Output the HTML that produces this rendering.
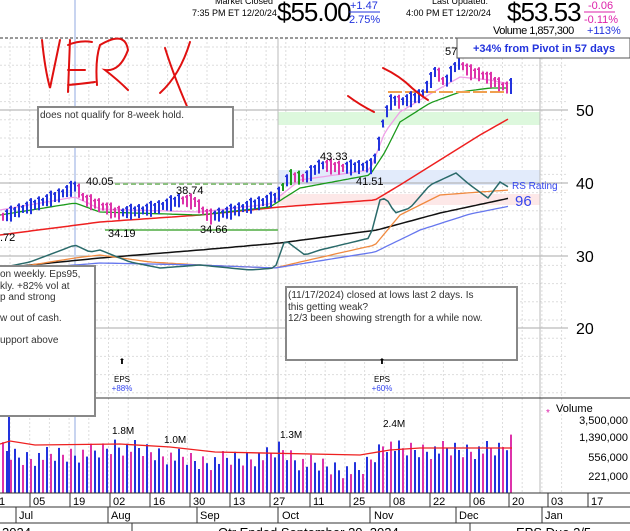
<!DOCTYPE html>
<html><head><meta charset="utf-8"><style>
body{margin:0;background:#fff;width:630px;height:531px;overflow:hidden;font-family:"Liberation Sans",sans-serif}
svg{display:block}
</style></head><body>
<svg id="c" width="630" height="531" xmlns="http://www.w3.org/2000/svg" font-family="Liberation Sans, sans-serif">
<rect width="630" height="531" fill="#fff"/>
<g id="grid"></g>
<rect x="278" y="112" width="262" height="13" fill="#ddf8dd"/>
<rect x="278" y="170" width="262" height="15" fill="#e2ebfb"/>
<rect x="278" y="194" width="262" height="11" fill="#fde8e8"/>
<line x1="0" y1="38" x2="630" y2="38" stroke="#333" stroke-dasharray="3,2"/>
<line x1="0" y1="110" x2="568" y2="110" stroke="#aaa"/>
<line x1="0" y1="183" x2="568" y2="183" stroke="#aaa"/>
<line x1="0" y1="256" x2="568" y2="256" stroke="#aaa"/>
<line x1="0" y1="328" x2="568" y2="328" stroke="#aaa"/>
<line x1="75" y1="0" x2="75" y2="493" stroke="#c8d4f0" stroke-width="2"/>
<line x1="278" y1="38" x2="278" y2="493" stroke="#bbb"/>
<line x1="540" y1="38" x2="540" y2="493" stroke="#bbb"/>
<line x1="95" y1="398" x2="630" y2="398" stroke="#333"/>
<g id="lines"></g>
<line x1="105" y1="230" x2="278" y2="230" stroke="#7ac070" stroke-width="2"/>
<line x1="115" y1="184" x2="275" y2="184" stroke="#8cc080" stroke-width="2" stroke-dasharray="5,3"/>
<line x1="388" y1="92" x2="505" y2="92" stroke="#f0a050" stroke-width="2" stroke-dasharray="14,3"/>
<g id="bars"></g>
<g id="vol"></g>
<g font-size="11" fill="#000">
<text x="86" y="185">40.05</text>
<text x="108" y="237">34.19</text>
<text x="176" y="194">38.74</text>
<text x="200" y="233">34.66</text>
<text x="320" y="160">43.33</text>
<text x="356" y="185">41.51</text>
<text x="445" y="55">57</text>
<text x="0" y="241">.72</text>
</g>
<text x="512" y="189" font-size="10" fill="#3344ee">RS Rating</text>
<text x="515" y="206" font-size="15" fill="#3344ee">96</text>
<g font-size="16" fill="#000"><text x="576" y="116">50</text><text x="576" y="189">40</text><text x="576" y="262">30</text><text x="576" y="334">20</text></g>
<g font-size="9" fill="#000">
<text x="215" y="4">Market Closed</text>
<text x="192" y="16">7:35 PM ET 12/20/24</text>
<text x="432" y="4">Last Updated:</text>
<text x="406" y="16">4:00 PM ET 12/20/24</text>
</g>
<text x="277" y="21" font-size="26" letter-spacing="-1">$55.00</text>
<text x="350" y="9" font-size="11" fill="#2233dd">+1.47</text>
<line x1="349" y1="12" x2="380" y2="12" stroke="#2233dd"/>
<text x="349" y="23" font-size="11" fill="#2233dd">2.75%</text>
<text x="507" y="21" font-size="26" letter-spacing="-1">$53.53</text>
<text x="588" y="9" font-size="11" fill="#dd22aa">-0.06</text>
<line x1="584" y1="12" x2="615" y2="12" stroke="#dd22aa"/>
<text x="584" y="23" font-size="11" fill="#dd22aa">-0.11%</text>
<text x="493" y="34" font-size="11" letter-spacing="-0.5">Volume 1,857,300</text>
<text x="587" y="34" font-size="11" fill="#2233dd">+113%</text>
<rect x="457" y="38" width="173" height="20" fill="#fff" stroke="#555"/>
<text x="473" y="52" font-size="11" font-weight="bold" fill="#2233dd">+34% from Pivot in 57 days</text>
<g fill="none" stroke="#e01010" stroke-width="2" stroke-linecap="round">
<path d="M42 40 Q45 70 50 88 L60 40"/><path d="M70 40 L68 92 M68 45 Q80 40 92 42 M68 70 L85 70 M68 85 Q80 84 95 82"/>
<path d="M97 85 Q95 60 100 45 Q125 30 128 50 Q120 72 105 70 Q118 80 128 90"/><path d="M165 48 Q175 80 193 120 M190 42 Q180 75 160 93 M187 115 L193 121 L195 112"/>
<path d="M383 68 Q400 76 412 88 Q420 95 428 100"/><path d="M348 96 Q360 105 374 112"/>
</g>
<rect x="38" y="107" width="195" height="40" fill="#fff" stroke="#888" stroke-width="2"/>
<text x="40" y="118" font-size="10" fill="#333">does not qualify for 8-week hold.</text>
<rect x="-5" y="266" width="100" height="150" fill="#fff" stroke="#888" stroke-width="2"/>
<g font-size="10" fill="#333"><text x="0" y="277">on weekly. Eps95,</text><text x="0" y="289">kly. +82% vol at</text><text x="0" y="300">p and strong</text><text x="0" y="321">w out of cash.</text><text x="0" y="343">upport above</text></g>
<rect x="286" y="287" width="231" height="73" fill="#fff" stroke="#888" stroke-width="2"/>
<g font-size="10" fill="#333"><text x="288" y="298">(11/17/2024) closed at lows last 2 days.  Is</text><text x="288" y="310">this getting weak?</text><text x="288" y="321">12/3 been showing strength for a while now.</text></g>
<g font-size="8" text-anchor="middle"><text x="122" y="364">⬆</text><text x="122" y="382">EPS</text><text x="122" y="391" fill="#3344ee">+88%</text>
<text x="382" y="364">⬆</text><text x="382" y="382">EPS</text><text x="382" y="391" fill="#3344ee">+60%</text></g>
<g font-size="10"><text x="112" y="434">1.8M</text><text x="164" y="443">1.0M</text><text x="280" y="438">1.3M</text><text x="383" y="427">2.4M</text></g>
<text x="546" y="416" font-size="10" fill="#dd22aa">*</text>
<text x="556" y="412" font-size="11">Volume</text>
<g font-size="11" text-anchor="end"><text x="628" y="424">3,500,000</text><text x="628" y="441">1,390,000</text><text x="628" y="461">556,000</text><text x="628" y="480">221,000</text></g>
<line x1="0" y1="493" x2="630" y2="493" stroke="#333"/>
<g font-size="11" id="dates"></g>
<line x1="0" y1="507" x2="630" y2="507" stroke="#333"/>
<g stroke="#333"><line x1="16" y1="507" x2="16" y2="523"/><line x1="108" y1="507" x2="108" y2="523"/><line x1="197" y1="507" x2="197" y2="523"/><line x1="278" y1="507" x2="278" y2="523"/><line x1="370" y1="507" x2="370" y2="523"/><line x1="456" y1="507" x2="456" y2="523"/><line x1="542" y1="507" x2="542" y2="523"/>
<line x1="0" y1="523" x2="630" y2="523"/><line x1="132" y1="523" x2="132" y2="531"/><line x1="470" y1="523" x2="470" y2="531"/></g>
<g font-size="11"><text x="19" y="519">Jul</text><text x="111" y="519">Aug</text><text x="200" y="519">Sep</text><text x="282" y="519">Oct</text><text x="374" y="519">Nov</text><text x="459" y="519">Dec</text><text x="545" y="519">Jan</text></g>
<g font-size="13"><text x="2" y="537">2024</text><text x="218" y="537">Qtr Ended September 30, 2024</text><text x="516" y="537">EPS Due 2/5</text></g>
</svg>
<script>
var NS="http://www.w3.org/2000/svg";
function el(p,t,a){var e=document.createElementNS(NS,t);for(var k in a)e.setAttribute(k,a[k]);p.appendChild(e);return e;}
function interp(pts,x){for(var i=0;i<pts.length-1;i++){if(x>=pts[i][0]&&x<=pts[i+1][0]){var t=(x-pts[i][0])/(pts[i+1][0]-pts[i][0]);return pts[i][1]+t*(pts[i+1][1]-pts[i][1]);}}return pts[pts.length-1][1];}
var g=document.getElementById('grid');
for(var x=10;x<568;x+=19.7)el(g,'line',{x1:x,y1:38,x2:x,y2:493,stroke:'#ddd','stroke-dasharray':'2,2'});
for(var y=47;y<400;y+=18.2)el(g,'line',{x1:0,y1:y,x2:568,y2:y,stroke:'#ddd','stroke-dasharray':'2,2'});
var L=document.getElementById('lines');
function poly(pts,c,w){var d='';for(var x=0;x<=510;x+=4){d+=(d?'L':'M')+x+' '+interp(pts,x).toFixed(1);}el(L,'path',{d:d,fill:'none',stroke:c,'stroke-width':w||1.3});}
var price=[[0,218],[20,210],[40,203],[60,195],[76,186],[85,200],[104,207],[116,213],[140,211],[160,207],[180,200],[195,202],[209,217],[230,212],[250,206],[270,200],[277,197],[289,177],[305,178],[321,165],[341,168],[360,167],[373,166],[380,140],[384,118],[392,100],[400,102],[412,99],[422,95],[430,82],[436,70],[445,84],[458,62],[470,72],[482,75],[495,82],[506,88],[510,86]];
poly([[0,235],[100,222],[200,215],[280,207],[375,200],[400,185],[440,160],[480,135],[510,118]],'#ee2020',1.5);
poly([[0,215],[75,203],[100,212],[200,215],[270,207],[300,188],[370,175],[385,152],[400,122],[430,103],[460,92],[490,88],[510,88]],'#1a9a1a');
poly([[0,210],[75,197],[100,209],[200,212],[270,204],[300,180],[370,170],[385,132],[400,112],[430,94],[460,77],[490,80],[510,84]],'#f0a0e8');
poly([[0,268],[100,258],[200,250],[280,243],[377,230],[440,213],[510,198]],'#111',1.5);
poly([[0,270],[75,258],[100,255],[150,262],[200,265],[275,268],[300,262],[375,245],[400,215],[440,195],[480,192],[510,190]],'#f08a40');
poly([[0,270],[75,265],[100,263],[200,265],[275,268],[375,252],[420,230],[470,214],[510,206]],'#6677ee');
poly([[0,268],[30,262],[75,245],[90,252],[100,250],[130,262],[160,268],[200,265],[250,270],[275,268],[285,240],[305,255],[320,250],[370,238],[380,200],[386,198],[395,213],[410,208],[430,185],[456,173],[470,185],[488,198],[500,182],[510,188]],'#2a6a6a',1.5);
var B=document.getElementById('bars');
for(var i=0;i<=127;i++){var x=3+i*4;var c=interp(price,x),p=interp(price,x-4);var up=c<=p;var col=up?'#2233dd':'#dd33aa';var h=8+((i*7)%5)*2;
if(x>282&&x<300&&i%2==0)col='#1a9a1a';
el(B,'line',{x1:x,y1:c-h/2,x2:x,y2:c+h/2,stroke:col,'stroke-width':2});el(B,'line',{x1:x-2,y1:c-h/2+2,x2:x,y2:c-h/2+2,stroke:col,'stroke-width':1.5});}
var V=document.getElementById('vol');
var vh=[[0,450],[20,458],[100,452],[115,445],[200,462],[270,456],[280,448],[300,462],[360,472],[375,455],[385,442],[400,450],[500,450],[510,440]];
for(var i=0;i<=127;i++){var x=3+i*4;var t=interp(vh,x)+(((i*37)%11)-5)*1.8;var col=(i*13%5<2)?'#dd33aa':'#2233dd';el(V,'line',{x1:x,y1:t,x2:x,y2:493,stroke:col,'stroke-width':2});}
el(V,'line',{x1:9,y1:402,x2:9,y2:493,stroke:'#2233dd','stroke-width':2});
var d='';[[0,444],[10,441],[35,445],[120,444],[170,447],[215,452],[360,455],[390,450],[420,448],[512,448]].forEach(function(p,j){d+=(j?'L':'M')+p[0]+' '+p[1];});
el(V,'path',{d:d,fill:'none',stroke:'#ee2020','stroke-width':1.3});
var D=document.getElementById('dates');
[['1',-4],['05',30],['19',70],['02',110],['16',150],['30',190],['13',230],['27',270],['11',310],['25',350],['08',390],['22',430],['06',470],['20',509],['03',548],['17',588]].forEach(function(a){var t=el(D,'text',{x:a[1]+3,y:505});t.textContent=a[0];el(D,'line',{x1:a[1],y1:493,x2:a[1],y2:507,stroke:'#333'});});
</script>
</body></html>
